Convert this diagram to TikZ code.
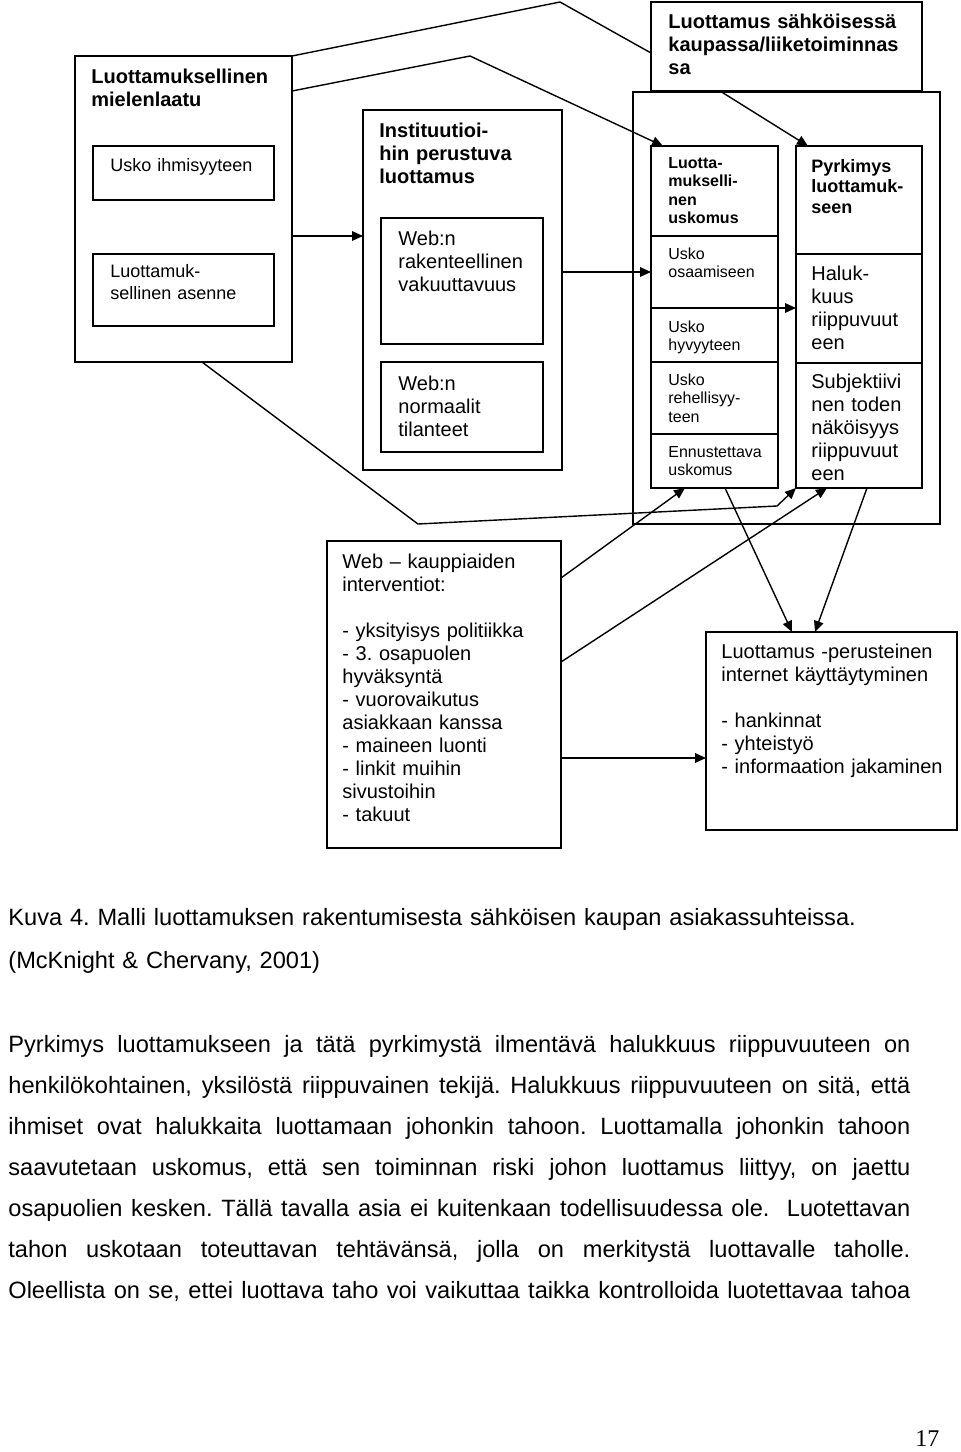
\documentclass[tikz,border=0pt]{standalone}
\usepackage{fontspec}
\setmainfont{Liberation Sans}
\newfontfamily\pagefont{Liberation Serif}
\usetikzlibrary{arrows.meta, fit}
\frenchspacing
% one justified line of the body text
\newcommand{\fullline}[1]{\leavevmode\hbox to 451pt{\spaceskip=3.3pt plus 4pt minus 1.5pt\relax #1}}
\tikzset{
  box/.style={
    draw,
    rectangle,
    inner sep=0pt,
    outer sep=0pt,
    line width=0.7pt
  },
  txt/.style={
    anchor=base west,
    inner sep=0pt,
    text width=220pt,
    align=left,
    font=\fontsize{10pt}{11.5pt}\selectfont
  },
  head/.style={
    txt,
    font=\fontsize{10pt}{11.5pt}\selectfont\bfseries
  },
  midtxt/.style={
    txt,
    font=\fontsize{9pt}{11pt}\selectfont
  },
  pyrhead/.style={
    txt,
    font=\fontsize{9pt}{10.3pt}\selectfont\bfseries
  },
  small/.style={
    txt,
    font=\fontsize{8pt}{9.3pt}\selectfont
  },
  smallhead/.style={
    txt,
    font=\fontsize{8pt}{9.3pt}\selectfont\bfseries
  },
  bodytxt/.style={
    txt,
    text width=451pt,
    font=\fontsize{11.8pt}{20.5pt}\selectfont
  },
  link/.style={
    line width=0.7pt,
    -{Triangle[length=5.5pt, width=4.8pt]}
  }
}
\begin{document}
\begin{tikzpicture}[x=0.5pt, y=-0.5pt]
  \useasboundingbox (0,0) rectangle (960,1452);

  % luottamuksellinen mielenlaatu
  \node[box, fit={(75,56) (292,362)}] (mind) {};
  \node[box, fit={(93,146) (274,200)}] (human) {};
  \node[box, fit={(93,254) (274,326)}] (attitude) {};
  \node[head] at (91,83) {Luottamuksellinen\\mielenlaatu};
  \node[midtxt] at (110,171) {Usko ihmisyyteen};
  \node[midtxt] at (110,277) {Luottamuk-\\sellinen asenne};

  % instituutioihin perustuva luottamus
  \node[box, fit={(363,110) (562,470)}] (inst) {};
  \node[box, fit={(381,218) (543,344)}] (struct) {};
  \node[box, fit={(381,362) (543,452)}] (normal) {};
  \node[head] at (379,137) {Instituutioi-\\hin perustuva\\luottamus};
  \node[txt] at (398,245) {Web:n\\rakenteellinen\\vakuuttavuus};
  \node[txt] at (398,390) {Web:n\\normaalit\\tilanteet};

  % luottamus sahkoisessa kaupassa
  \node[box, fit={(651,2) (922,91)}] (title) {};
  \node[box, fit={(633,92) (940,524)}] (frame) {};
  \node[head] at (668,28) {Luottamus sähköisessä\\kaupassa/liiketoiminnas\\sa};

  \node[box, fit={(651,146) (778,236)}] (lhead) {};
  \node[box, fit={(651,236) (778,308)}] (lone) {};
  \node[box, fit={(651,308) (778,362)}] (ltwo) {};
  \node[box, fit={(651,362) (778,434)}] (lthree) {};
  \node[box, fit={(651,434) (778,488)}] (lfour) {};
  \node[smallhead] at (668,168) {Luotta-\\mukselli-\\nen\\uskomus};
  \node[small] at (668,259) {Usko\\osaamiseen};
  \node[small] at (668,332) {Usko\\hyvyyteen};
  \node[small] at (668,385) {Usko\\rehellisyy-\\teen};
  \node[small] at (668,457) {Ennustettava\\uskomus};

  \node[box, fit={(796,146) (922,254)}] (phead) {};
  \node[box, fit={(796,254) (922,363)}] (pone) {};
  \node[box, fit={(796,363) (922,488)}] (ptwo) {};
  \node[pyrhead] at (811,172) {Pyrkimys\\luottamuk-\\seen};
  \node[txt] at (811,280) {Haluk-\\kuus\\riippuvuut\\een};
  \node[txt] at (811,388) {Subjektiivi\\nen toden\\näköisyys\\riippuvuut\\een};

  % interventiot ja kayttaytyminen
  \node[box, fit={(327,541) (561,848)}] (web) {};
  \node[txt] at (342,568) {Web – kauppiaiden\\interventiot:\\[11.5pt]- yksityisys politiikka\\- 3. osapuolen\\hyväksyntä\\- vuorovaikutus\\asiakkaan kanssa\\- maineen luonti\\- linkit muihin\\sivustoihin\\- takuut};
  \node[box, fit={(706,632) (957,830)}] (use) {};
  \node[txt] at (721,658) {Luottamus -perusteinen\\internet käyttäytyminen\\[11.5pt]- hankinnat\\- yhteistyö\\- informaation jakaminen};

  \coordinate (bendA) at (560,2);
  \coordinate (bendB) at (470,56);
  \coordinate (bendC) at (418,524);
  \coordinate (bendD) at (777,506);

  \draw[line width=0.7pt] (mind.north east) -- (bendA) -- (title.west |- 0,53);
  \draw[link] (mind.east |- 0,91) -- (bendB) -- (lhead.north -| 663,0);
  \draw[link] (title.south -| 720,0) -- (phead.north -| 808,0);
  \draw[link] (mind.east |- 0,236) -- (inst.west |- 0,236);
  \draw[link] (inst.east |- 0,272) -- (lone.west |- 0,272);
  \draw[link] (lone.south east) -- (pone.west |- lone.south east);
  \draw[link] (mind.south -| 202,0) -- (bendC) -- (bendD) -- (ptwo.south west);
  \draw[link] (web.east |- 0,578) -- (lfour.south -| 685,0);
  \draw[link] (web.east |- 0,662) -- (ptwo.south -| 827,0);
  \draw[link] (lfour.south -| 725,0) -- (use.north -| 792,0);
  \draw[link] (ptwo.south -| 867,0) -- (use.north -| 815,0);
  \draw[link] (web.east |- 0,758) -- (use.west |- 0,758);

  % kuvateksti ja leipateksti
  \node[bodytxt] (caption) at (8,925) {Kuva 4. Malli luottamuksen rakentumisesta sähköisen kaupan asiakassuhteissa.\\[1pt](McKnight \& Chervany, 2001)};
  \node[bodytxt] (body) at (8,1052) {%
    \fullline{Pyrkimys luottamukseen ja tätä pyrkimystä ilmentävä halukkuus riippuvuuteen on}\\
    \fullline{henkilökohtainen, yksilöstä riippuvainen tekijä. Halukkuus riippuvuuteen on sitä, että}\\
    \fullline{ihmiset ovat halukkaita luottamaan johonkin tahoon. Luottamalla johonkin tahoon}\\
    \fullline{saavutetaan uskomus, että sen toiminnan riski johon luottamus liittyy, on jaettu}\\
    \fullline{osapuolien kesken. Tällä tavalla asia ei kuitenkaan todellisuudessa ole.\ \ Luotettavan}\\
    \fullline{tahon uskotaan toteuttavan tehtävänsä, jolla on merkitystä luottavalle taholle.}\\
    \fullline{Oleellista on se, ettei luottava taho voi vaikuttaa taikka kontrolloida luotettavaa tahoa}};
  \node[txt, font=\pagefont\fontsize{12pt}{14pt}\selectfont] (pagenum) at (915,1446) {17};
\end{tikzpicture}
\end{document}
